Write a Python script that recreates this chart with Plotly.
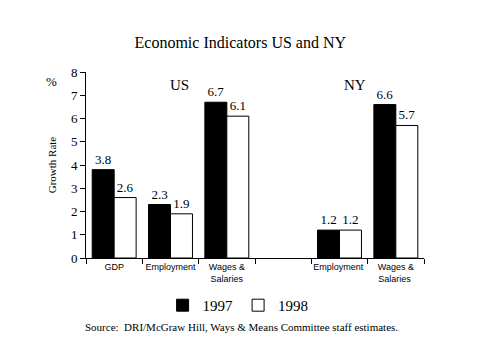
import plotly.graph_objects as go

categories = ["GDP", "Employment", "Wages &<br>Salaries", " ", "Employment ", "Wages &<br>Salaries "]
values_1997 = [3.8, 2.3, 6.7, None, 1.2, 6.6]
values_1998 = [2.6, 1.9, 6.1, None, 1.2, 5.7]
y_ticks = [0, 1, 2, 3, 4, 5, 6, 7, 8]

serif = "Liberation Serif, Times New Roman, serif"

def labels(vals):
    return ["" if v is None else f"{v:.1f}" for v in vals]

fig = go.Figure()
fig.add_trace(go.Bar(name="1997", x=categories, y=values_1997, text=labels(values_1997),
                     textposition="outside", marker=dict(color="black", line=dict(color="black", width=1)),
                     textfont=dict(family=serif, size=13, color="black"), cliponaxis=False))
fig.add_trace(go.Bar(name="1998", x=categories, y=values_1998, text=labels(values_1998),
                     textposition="outside", marker=dict(color="white", line=dict(color="black", width=1)),
                     textfont=dict(family=serif, size=13, color="black"), cliponaxis=False))

fig.update_layout(
    width=479, height=359,
    margin=dict(l=78, r=63, t=64, b=109, autoexpand=False),
    paper_bgcolor="white", plot_bgcolor="white",
    barmode="group", bargap=0.22, bargroupgap=0,
    title=dict(text="Economic Indicators US and NY", x=0.485, xanchor="center", y=0.905, yanchor="middle",
               font=dict(family=serif, size=16, color="black")),
    showlegend=True,
    legend=dict(orientation="h", x=0.45, xanchor="center", y=-0.255, yanchor="middle",
                font=dict(family=serif, size=15, color="black"), traceorder="normal",
                itemwidth=30, bgcolor="rgba(0,0,0,0)"),
    font=dict(family=serif, color="black"),
)
fig.update_xaxes(type="category", categoryorder="array", categoryarray=categories,
                 showline=True, linecolor="black", linewidth=1, ticks="outside", ticklen=5,
                 tickcolor="black", tickson="boundaries", showgrid=False, tickangle=0, automargin=False,
                 tickfont=dict(family="Liberation Sans, Arial, sans-serif", size=9, color="black"))
fig.update_yaxes(range=[0, 8], tickvals=y_ticks, showline=True, linecolor="black", linewidth=1,
                 ticks="outside", ticklen=5, tickcolor="black", showgrid=False, zeroline=False, automargin=False,
                 tickfont=dict(family=serif, size=13, color="black"),
                 title=dict(text="Growth Rate", font=dict(family=serif, size=11, color="black"), standoff=12))

fig.add_annotation(text="%", xref="paper", yref="paper", x=-0.125, y=1.0, showarrow=False,
                   font=dict(family=serif, size=13, color="black"))
fig.add_annotation(text="US", xref="paper", yref="paper", x=0.243, y=0.984, showarrow=False,
                   font=dict(family=serif, size=15, color="black"))
fig.add_annotation(text="NY", xref="paper", yref="paper", x=0.834, y=0.984, showarrow=False,
                   font=dict(family=serif, size=15, color="black"))
fig.add_annotation(text="Source:  DRI/McGraw Hill, Ways & Means Committee staff estimates.",
                   xref="paper", yref="paper", x=0.46, y=-0.371, showarrow=False, xanchor="center",
                   yanchor="middle", font=dict(family=serif, size=11, color="black"))

fig.write_html("out.html")
